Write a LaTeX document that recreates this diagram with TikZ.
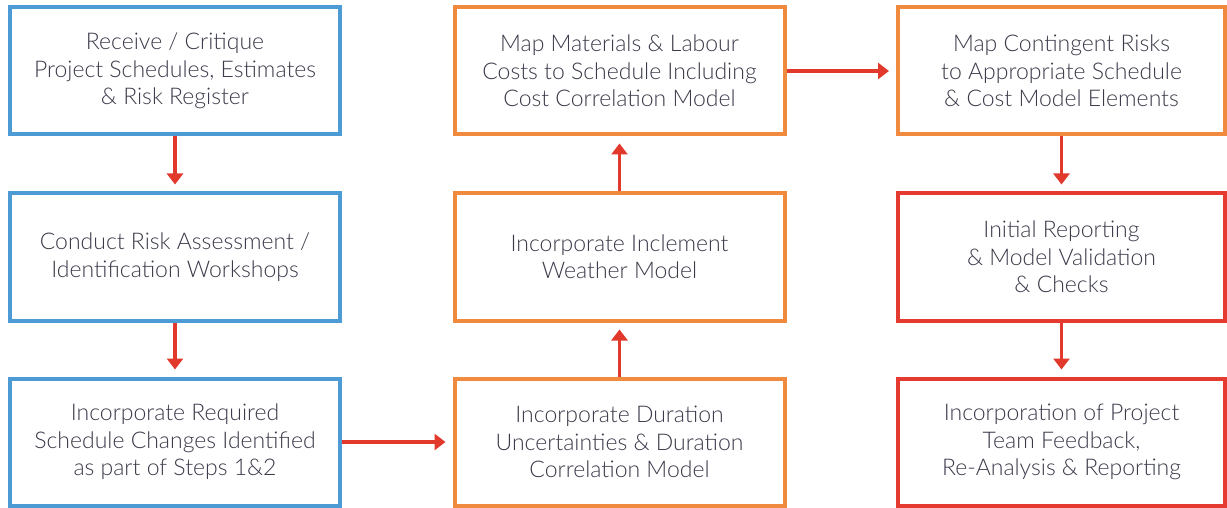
\documentclass[tikz,border=0pt]{standalone}
\usepackage{fontspec}
\setmainfont{Lato}[UprightFont=* Light]
\usetikzlibrary{arrows.meta}

\definecolor{stageblue}{HTML}{4C9BD5}
\definecolor{stageorange}{HTML}{F08A3E}
\definecolor{stagered}{HTML}{E53A2F}
\definecolor{linkred}{HTML}{E2392D}
\definecolor{textgray}{HTML}{3A3A4A}

\begin{document}
\begin{tikzpicture}[x=0.5pt, y=-0.5pt, >={Triangle[width=8pt,length=5.5pt]}]
	% Stile comune per le fasi
	\tikzset{
		stage/.style={
			draw,
			line width=2pt,
			fill=white,
			minimum width=165pt,
			minimum height=63.5pt,
			inner sep=0pt,
			align=center,
			text=textgray,
			font=\fontsize{11.5}{13.7}\selectfont
		},
		bluestage/.style={stage, draw=stageblue},
		orangestage/.style={stage, draw=stageorange},
		redstage/.style={stage, draw=stagered},
		link/.style={->, draw=linkred, line width=1.8pt, shorten >=3.5pt}
	}
	\useasboundingbox (0,0) rectangle (1227,508);

	% Prima colonna
	\node[bluestage] (receive) at (175, 71) {Receive / Critique\\Project Schedules, Estimates\\\& Risk Register};
	\node[bluestage] (workshops) at (175, 257) {Conduct Risk Assessment /\\Identification Workshops};
	\node[bluestage] (changes) at (175, 442) {Incorporate Required\\Schedule Changes Identified\\as part of Steps 1\&2};

	% Seconda colonna
	\node[orangestage] (duration) at (619.5, 442) {Incorporate Duration\\Uncertainties \& Duration\\Correlation Model};
	\node[orangestage] (weather) at (619.5, 257) {Incorporate Inclement\\Weather Model};
	\node[orangestage] (costs) at (619.5, 71) {Map Materials \& Labour\\Costs to Schedule Including\\Cost Correlation Model};

	% Terza colonna
	\node[orangestage, minimum width=163.5pt] (contingent) at (1061.5, 71) {Map Contingent Risks\\to Appropriate Schedule\\\& Cost Model Elements};
	\node[redstage, minimum width=163.5pt] (reporting) at (1061.5, 257) {Initial Reporting\\\& Model Validation\\\& Checks};
	\node[redstage, minimum width=163.5pt] (feedback) at (1061.5, 442) {Incorporation of Project\\Team Feedback,\\Re-Analysis \& Reporting};

	% Collegamenti
	\draw[link] (receive.south) -- (workshops.north);
	\draw[link] (workshops.south) -- (changes.north);
	\draw[link] (changes.east) -- (duration.west);
	\draw[link] (duration.north) -- (weather.south);
	\draw[link] (weather.north) -- (costs.south);
	\draw[link] (costs.east) -- (contingent.west);
	\draw[link] (contingent.south) -- (reporting.north);
	\draw[link] (reporting.south) -- (feedback.north);
\end{tikzpicture}
\end{document}
